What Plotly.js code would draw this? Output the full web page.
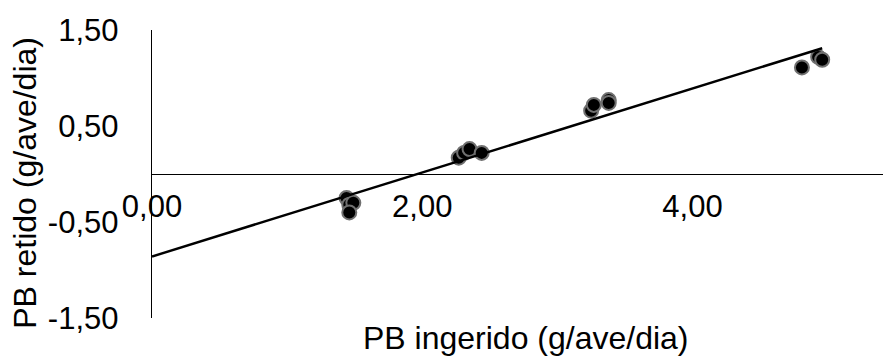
<!DOCTYPE html>
<html><head><meta charset="utf-8">
<script src="https://cdn.plot.ly/plotly-3.0.1.min.js"></script>
<style>html,body{margin:0;padding:0;background:#fff}#chart{width:884px;height:356px}</style>
</head><body><div id="chart"></div>
<script>
const pbIngerido = [1.44, 1.46, 1.49, 1.46, 2.27, 2.31, 2.35, 2.44, 3.25, 3.27, 3.38, 3.38, 4.81, 4.93, 4.96];
const pbRetido   = [-0.25, -0.32, -0.30, -0.40, 0.17, 0.22, 0.26, 0.22, 0.66, 0.72, 0.77, 0.74, 1.11, 1.22, 1.19];
const xTickVals = [0, 2, 4];
const xTickText = ['0,00', '2,00', '4,00'];
const yTickVals = [-1.5, -0.5, 0.5, 1.5];
const yTickText = ['-1,50', '-0,50', '0,50', '1,50'];
const xTitle = 'PB ingerido (g/ave/dia)';
const yTitle = 'PB retido (g/ave/dia)';

// linear least-squares trend line computed from the data
const n = pbIngerido.length;
const mx = pbIngerido.reduce((a, b) => a + b, 0) / n;
const my = pbRetido.reduce((a, b) => a + b, 0) / n;
let sxy = 0, sxx = 0;
for (let i = 0; i < n; i++) { sxy += (pbIngerido[i] - mx) * (pbRetido[i] - my); sxx += (pbIngerido[i] - mx) ** 2; }
const slope = sxy / sxx, intercept = my - slope * mx;
const trendX = [0, Math.max(...pbIngerido)];
const trendY = trendX.map(v => intercept + slope * v);

const fam = '"Liberation Sans", Arial, sans-serif';
const tickFont = {family: fam, size: 31, color: '#000'};
const titleFont = {family: fam, size: 32, color: '#000'};

const data = [
  {x: pbIngerido, y: pbRetido, type: 'scatter', mode: 'markers',
   marker: {size: 14, color: '#000', line: {color: '#707070', width: 2}}, hoverinfo: 'x+y'},
  {x: trendX, y: trendY, type: 'scatter', mode: 'lines', line: {color: '#000', width: 2.5}, hoverinfo: 'skip'}
];

const layout = {
  width: 884, height: 356,
  margin: {l: 152, r: 1, t: 30, b: 38},
  paper_bgcolor: '#fff', plot_bgcolor: '#fff',
  showlegend: false,
  font: tickFont,
  xaxis: {range: [0, 5.41], anchor: 'free', position: 0.5, showgrid: false, zeroline: false,
          showline: true, linecolor: '#000', linewidth: 1.3, ticks: '',
          tickvals: xTickVals, ticktext: xTickText, ticklabelstandoff: 4, tickfont: tickFont},
  yaxis: {range: [-1.5, 1.5], showgrid: false, zeroline: false,
          showline: true, linecolor: '#000', linewidth: 1.3, ticks: '',
          tickvals: yTickVals, ticktext: yTickText, ticklabelstandoff: 26, tickfont: tickFont},
  annotations: [
    {text: xTitle, xref: 'paper', yref: 'paper', x: 0.512, y: -0.068, xanchor: 'center', yanchor: 'middle', showarrow: false, font: titleFont},
    {text: yTitle, xref: 'paper', yref: 'paper', x: -0.174, y: 0.469, xanchor: 'center', yanchor: 'middle', textangle: -90, showarrow: false, font: titleFont}
  ]
};

Plotly.newPlot('chart', data, layout, {displayModeBar: false, staticPlot: true});
</script>
</body></html>
